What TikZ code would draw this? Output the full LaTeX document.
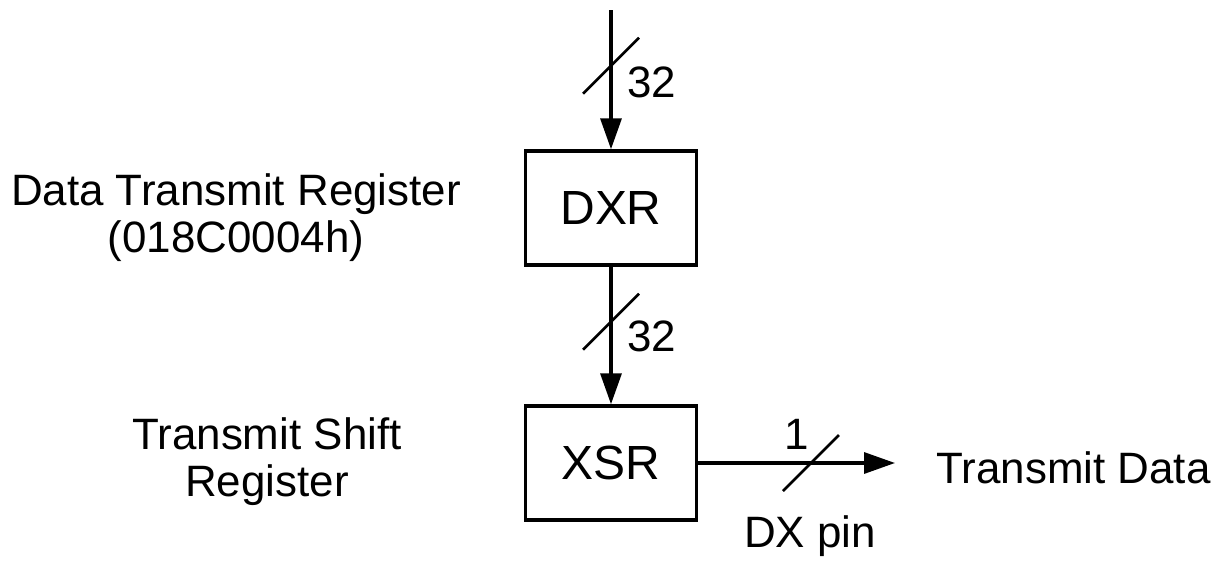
\documentclass[tikz,border=0pt]{standalone}
\usepackage{fontspec}
\setmainfont{Liberation Sans}
\usetikzlibrary{arrows.meta}
\begin{document}
\begin{tikzpicture}[x=0.02cm,y=-0.02cm,
    reg/.style={draw,line width=2pt,minimum width=3.42cm,minimum height=2.28cm,
      inner sep=0pt,font=\fontsize{27.3}{30}\selectfont},
    lbl/.style={inner sep=0pt,font=\fontsize{25}{26.7}\selectfont},
    bus/.style={line width=1.9pt,-{Triangle[length=0.62cm,width=0.42cm]}},
    buswidth/.style={line width=1.5pt}]
  \useasboundingbox (0,0) rectangle (1225,561);
  \node[reg] (DXR) at (611,208) {DXR};
  \node[reg] (XSR) at (611,463) {XSR};
  \coordinate (in) at (611,10);
  \coordinate (out) at (895,463);
  \node[lbl,align=center] (dxrname) at (236,218)
    {Data Transmit Register\\(018C0004h)};
  \node[lbl,align=center] (xsrname) at (267,462)
    {Transmit Shift\\Register};
  \node[lbl,anchor=west] (txdata) at (936,468) {Transmit Data};
  \node[lbl,anchor=base] (dxpin) at (810,547) {DX pin};
  % buses
  \draw[bus] (in) -- (DXR.north) coordinate[pos=0.4] (s1);
  \draw[bus] (DXR.south) -- (XSR.north) coordinate[pos=0.4] (s2);
  \draw[bus] (XSR.east) -- (out) coordinate[pos=0.573] (s3);
  \foreach \s in {s1,s2,s3}
    \draw[buswidth] ([shift={(-28,28)}]\s) -- ([shift={(28,-28)}]\s);
  \node[lbl,anchor=base west] (w1) at (627,97) {32};
  \node[lbl,anchor=base west] (w2) at (627,351) {32};
  \node[lbl,anchor=base] (w3) at (797,449) {1};
\end{tikzpicture}
\end{document}
